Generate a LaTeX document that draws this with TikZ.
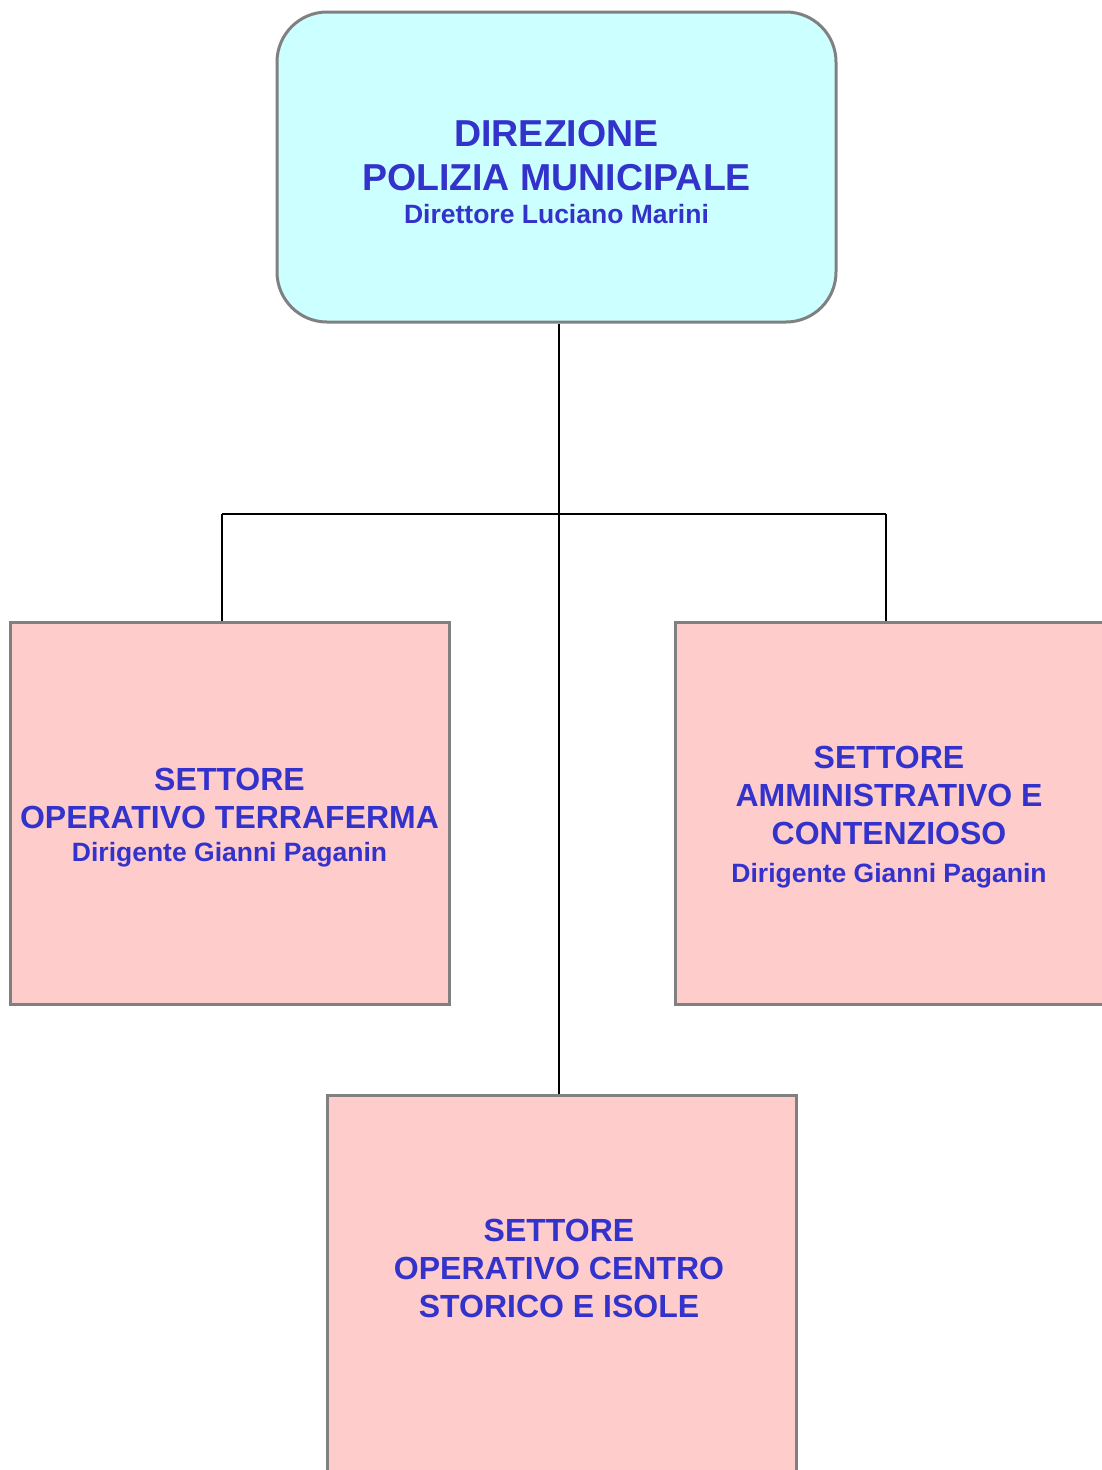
\documentclass[tikz,border=0pt]{standalone}
\usepackage{fontspec}
\setmainfont{Liberation Sans}
\definecolor{txtblue}{HTML}{3333CC}
\definecolor{dirfill}{HTML}{CCFFFF}
\definecolor{setfill}{HTML}{FFCCCC}
\definecolor{edgegray}{HTML}{808080}

\begin{document}
\begin{tikzpicture}[x=1pt, y=-1pt]
	\tikzstyle{every node}=[inner sep=0pt, align=center]
	\tikzstyle{unit}=[draw=edgegray, line width=3pt, fill=setfill, rectangle]
	\tikzstyle{lbl}=[text=txtblue, font=\bfseries\fontsize{32}{38}\selectfont]
	\tikzstyle{wire}=[line width=2pt, black]
	\useasboundingbox (0,0) rectangle (1102,1470);
	% boxes
	\node[unit, fill=dirfill, rounded corners=50pt, minimum width=559pt, minimum height=310pt] (dir) at (556.5, 167) {};
	\node[unit, minimum width=439pt, minimum height=382pt] (terra) at (229.5, 813) {};
	\node[unit, minimum width=428pt, minimum height=382pt] (ammin) at (889, 813) {};
	\node[unit, minimum width=469pt, minimum height=395pt] (centro) at (561.5, 1292.5) {};
	% texts
	\node[lbl, font=\bfseries\fontsize{37.5}{44}\selectfont] (dirT) at ([yshift=-5pt]dir.center)
		{DIREZIONE\\POLIZIA MUNICIPALE\\[-11pt]{\fontsize{26.5}{44}\selectfont Direttore Luciano Marini}};
	\node[lbl] (terraT) at ([yshift=-5pt]terra.center)
		{SETTORE\\OPERATIVO TERRAFERMA\\[-5pt]{\fontsize{26.5}{38}\selectfont Dirigente Gianni Paganin}};
	\node[lbl] (amminT) at ([yshift=-4pt]ammin.center)
		{SETTORE\\AMMINISTRATIVO E\\CONTENZIOSO\\{\fontsize{26.5}{38}\selectfont Dirigente Gianni Paganin}};
	\node[lbl] (centroT) at (559, 1268)
		{SETTORE\\OPERATIVO CENTRO\\STORICO E ISOLE};
	% connectors
	\coordinate (hub) at (559, 514);
	\coordinate (lj) at (222, 514);
	\coordinate (rj) at (886, 514);
	\draw[wire] (hub |- dir.south) -- (hub |- centro.north);
	\draw[wire] (lj) -- (rj);
	\draw[wire] (lj) -- (lj |- terra.north);
	\draw[wire] (rj) -- (rj |- ammin.north);
\end{tikzpicture}
\end{document}
